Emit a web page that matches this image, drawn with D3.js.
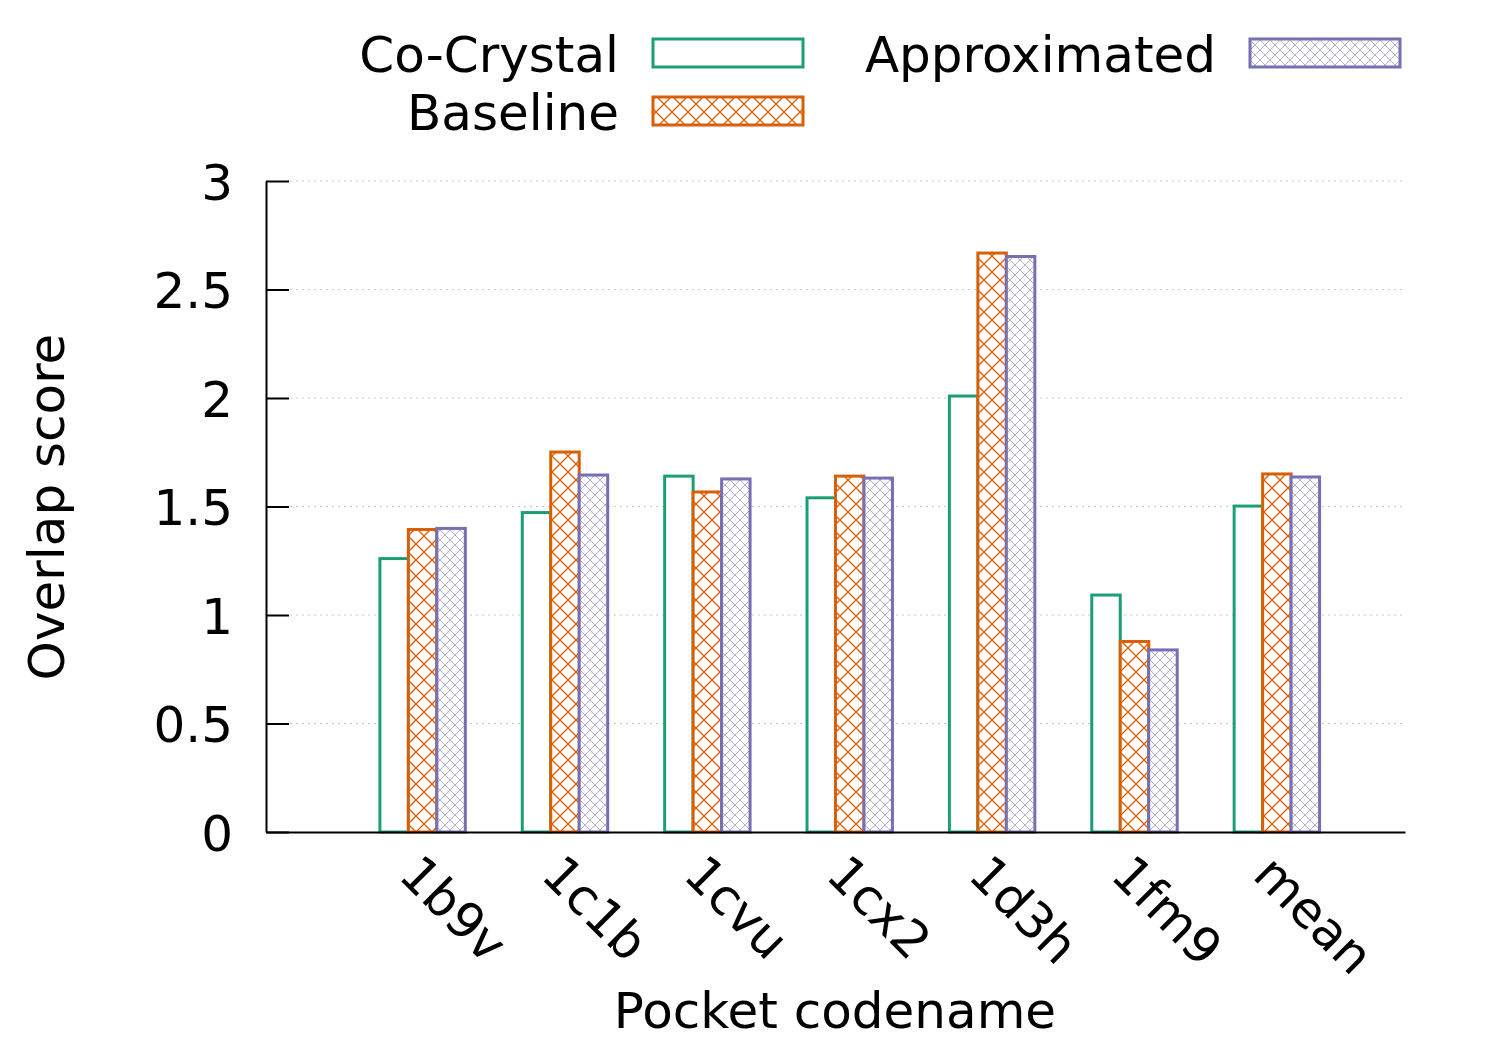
<!DOCTYPE html>
<html>
<head>
<meta charset="utf-8">
<script src="https://cdn.jsdelivr.net/npm/d3@7"></script>
<style>
  html, body { margin: 0; padding: 0; background: #fff; }
  svg { display: block; font-family: "DejaVu Sans", sans-serif; }
</style>
</head>
<body>
<svg id="chart" width="1500" height="1050"></svg>
<script>
const categories = ['1b9v', '1c1b', '1cvu', '1cx2', '1d3h', '1fm9', 'mean'];
const coCrystal = [1.26, 1.472, 1.64, 1.54, 2.009, 1.092, 1.502];
const baseline = [1.394, 1.751, 1.567, 1.64, 2.668, 0.878, 1.65];
const approximated = [1.399, 1.645, 1.627, 1.631, 2.652, 0.839, 1.636];
const seriesNames = ['Co-Crystal', 'Baseline', 'Approximated'];
const yTicks = [0, 0.5, 1, 1.5, 2, 2.5, 3];
const yTickLabels = ['0', '0.5', '1', '1.5', '2', '2.5', '3'];

const colors = ['#1b9e77', '#d95f02', '#7570b3'];
const seriesData = [coCrystal, baseline, approximated];
const FS = 50;

const svg = d3.select('#chart');
const defs = svg.append('defs');

// orange cross-hatch
const p1 = defs.append('pattern').attr('id', 'hatchOrange')
  .attr('patternUnits', 'userSpaceOnUse').attr('width', 16).attr('height', 16);
p1.append('rect').attr('width', 16).attr('height', 16).attr('fill', '#fff');
p1.append('path').attr('d', 'M0,0 L16,16 M16,0 L0,16 M-4,12 L4,20 M12,-4 L20,4 M-4,4 L4,-4 M12,20 L20,12')
  .attr('stroke', colors[1]).attr('stroke-width', 1.3).attr('fill', 'none');

// purple fine cross-hatch
const p2 = defs.append('pattern').attr('id', 'hatchPurple')
  .attr('patternUnits', 'userSpaceOnUse').attr('width', 10).attr('height', 10);
p2.append('rect').attr('width', 10).attr('height', 10).attr('fill', '#fff');
p2.append('path').attr('d', 'M0,0 L10,10 M10,0 L0,10 M-3,7 L3,13 M7,-3 L13,3 M-3,3 L3,-3 M7,13 L13,7')
  .attr('stroke', colors[2]).attr('stroke-opacity', 0.55).attr('stroke-width', 1).attr('fill', 'none');

const fills = ['#fff', 'url(#hatchOrange)', 'url(#hatchPurple)'];

const x = d3.scaleLinear().domain([-1.1, 6.9]).range([266, 1405]);
const y = d3.scaleLinear().domain([0, 3]).range([832, 181]);
const barW = 0.2;

// grid
svg.append('g').selectAll('line').data(yTicks.filter(d => d > 0)).join('line')
  .attr('x1', 290).attr('x2', 1405)
  .attr('y1', d => y(d)).attr('y2', d => y(d))
  .attr('stroke', '#c8c8c8').attr('stroke-width', 1).attr('stroke-dasharray', '2,4');

// bars
seriesData.forEach((vals, s) => {
  svg.append('g').selectAll('rect').data(vals).join('rect')
    .attr('x', (d, i) => x(i + (s - 1.5) * barW))
    .attr('width', x(barW) - x(0))
    .attr('y', d => y(d))
    .attr('height', d => y(0) - y(d))
    .attr('fill', fills[s])
    .attr('stroke', colors[s]).attr('stroke-width', 3);
});

// y axis
const yAxis = svg.append('g').attr('transform', `translate(${266},0)`)
  .call(d3.axisLeft(y).tickValues(yTicks).tickFormat((d, i) => yTickLabels[i])
    .tickSizeInner(-23).tickSizeOuter(0).tickPadding(33));
yAxis.select('.domain').attr('stroke', '#000').attr('stroke-width', 2);
yAxis.selectAll('.tick line').attr('stroke', '#000').attr('stroke-width', 2);
yAxis.selectAll('text').attr('font-size', FS).attr('font-family', 'DejaVu Sans')
  .attr('fill', '#000').attr('dy', '0.36em');

// x axis
const xAxis = svg.append('g').attr('transform', `translate(0,${832})`)
  .call(d3.axisBottom(x).tickValues(d3.range(categories.length))
    .tickFormat(i => categories[i]).tickSize(0).tickSizeOuter(0));
xAxis.select('.domain').attr('stroke', '#000').attr('stroke-width', 2);
xAxis.selectAll('text').attr('font-size', FS).attr('font-family', 'DejaVu Sans')
  .attr('fill', '#000').attr('text-anchor', 'start')
  .attr('x', 0).attr('y', 0).attr('dy', 0)
  .attr('transform', 'translate(-26,45) rotate(45)');

// axis titles
svg.append('text').attr('x', 835).attr('y', 1028).attr('text-anchor', 'middle')
  .attr('font-size', FS).text('Pocket codename');
svg.append('text').attr('transform', 'translate(64,507) rotate(-90)')
  .attr('text-anchor', 'middle').attr('font-size', FS).text('Overlap score');

// legend
const legendItems = [
  { tx: 619, ty: 72, bx: 653, by: 39 },
  { tx: 619, ty: 130, bx: 653, by: 97 },
  { tx: 1216, ty: 72, bx: 1250, by: 39 }
];
legendItems.forEach((L, s) => {
  svg.append('text').attr('x', L.tx).attr('y', L.ty).attr('text-anchor', 'end')
    .attr('font-size', FS).text(seriesNames[s]);
  svg.append('rect').attr('x', L.bx).attr('y', L.by).attr('width', 150).attr('height', 28)
    .attr('fill', fills[s]).attr('stroke', colors[s]).attr('stroke-width', 3);
});
</script>
</body>
</html>
